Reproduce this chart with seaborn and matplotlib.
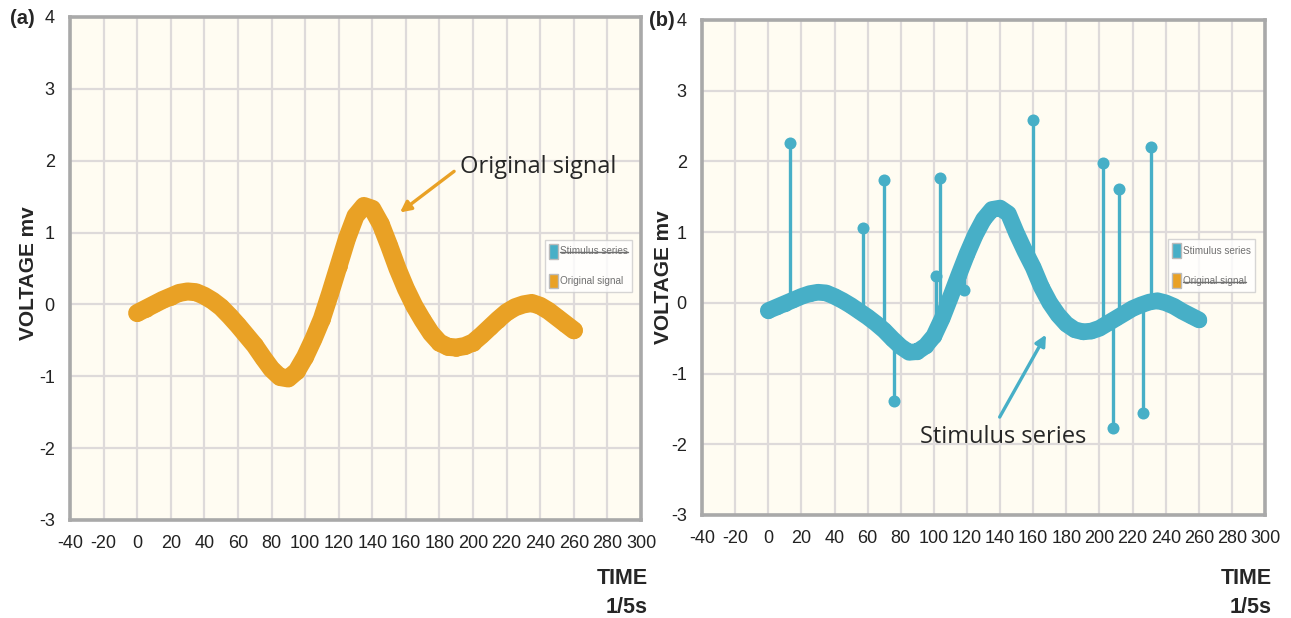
import pandas as pd
import matplotlib
matplotlib.use("Agg")
from matplotlib import pyplot as plt
from matplotlib.patches import Patch
from matplotlib.lines import Line2D
import seaborn as sns

TIME = list(range(0, 261, 5))
ORIGINAL = [-0.12, -0.06, 0.0, 0.06, 0.11, 0.16, 0.18, 0.17, 0.12, 0.05,
            -0.04, -0.16, -0.29, -0.43, -0.57, -0.74, -0.9, -1.01, -1.03, -0.93,
            -0.73, -0.48, -0.2, 0.16, 0.54, 0.92, 1.23, 1.37, 1.33, 1.12,
            0.82, 0.5, 0.22, -0.02, -0.22, -0.4, -0.53, -0.59, -0.6, -0.58,
            -0.53, -0.43, -0.32, -0.21, -0.11, -0.04, 0.0, 0.02, -0.02, -0.09,
            -0.18, -0.27, -0.36]
STIMULUS = [-0.11, -0.06, -0.01, 0.04, 0.09, 0.13, 0.15, 0.14, 0.09, 0.03,
            -0.04, -0.12, -0.2, -0.29, -0.39, -0.51, -0.62, -0.7, -0.69, -0.61,
            -0.47, -0.22, 0.08, 0.39, 0.69, 0.96, 1.18, 1.32, 1.34, 1.26,
            0.98, 0.73, 0.5, 0.22, 0.0, -0.17, -0.3, -0.38, -0.41, -0.4,
            -0.36, -0.29, -0.22, -0.15, -0.08, -0.03, 0.01, 0.03, 0.0, -0.05,
            -0.12, -0.18, -0.24]
SPIKE_TIME = [13, 57, 70, 76, 101, 104, 118, 160, 202, 208, 212, 226, 231]
SPIKE_BASE = [0.02, -0.15, -0.39, -0.53, -0.42, -0.3, 0.55, 0.5, -0.34, -0.25, -0.2, -0.02, 0.02]
SPIKE_TIP = [2.26, 1.06, 1.73, -1.39, 0.38, 1.77, 0.18, 2.58, 1.98, -1.77, 1.61, -1.56, 2.2]

X_TICKS = list(range(-40, 301, 20))
Y_TICKS = list(range(-3, 5))
LEGEND_LABELS = ["Stimulus series", "Original signal"]

ORANGE = "#E9A125"
BLUE = "#47AFC7"
SPINE = "#A9A9A9"

sns.set_style("white")
plt.rcParams["font.family"] = ["Liberation Sans", "DejaVu Sans"]
plt.rcParams["axes.unicode_minus"] = False

fig = plt.figure(figsize=(12.91, 6.18), dpi=100)
ax1 = fig.add_axes([0.0542, 0.1586, 0.4423, 0.8139])
ax2 = fig.add_axes([0.5438, 0.1667, 0.4361, 0.8010])

orig_df = pd.DataFrame({"time": TIME, "v": ORIGINAL})
stim_df = pd.DataFrame({"time": TIME, "v": STIMULUS})

sns.lineplot(data=orig_df, x="time", y="v", ax=ax1, color=ORANGE, lw=13,
             marker="o", markersize=12, markeredgewidth=0,
             solid_capstyle="round", solid_joinstyle="round", zorder=3)

ax2.vlines(SPIKE_TIME, SPIKE_BASE, SPIKE_TIP, color=BLUE, lw=2.4, zorder=3)
sns.lineplot(data=stim_df, x="time", y="v", ax=ax2, color=BLUE, lw=12,
             marker="o", markersize=11, markeredgewidth=0,
             solid_capstyle="round", solid_joinstyle="round", zorder=4)
sns.scatterplot(x=SPIKE_TIME, y=SPIKE_TIP, ax=ax2, color=BLUE, s=75,
                linewidth=0, zorder=5)

for ax, ylab, tlab in ((ax1, (-0.073, 0.49), -0.095), (ax2, (-0.069, 0.48), -0.107)):
    ax.set_facecolor("#FFFCF2")
    ax.set_xlim(-40, 300)
    ax.set_ylim(-3, 4)
    ax.set_xticks(X_TICKS)
    ax.set_yticks(Y_TICKS)
    ax.grid(True, color="#DEDADA", lw=1.6)
    ax.set_axisbelow(True)
    for s in ax.spines.values():
        s.set_visible(True)
        s.set_color(SPINE)
        s.set_linewidth(2.6)
    ax.tick_params(axis="both", labelsize=13, colors="#222222", length=5,
                   width=1.2, direction="out", color=SPINE, pad=6)
    ax.set_ylabel("VOLTAGE mv", fontsize=15, fontweight="bold")
    ax.yaxis.set_label_coords(*ylab)
    ax.yaxis.label.set_verticalalignment("center")
    ax.set_xlabel("TIME\n1/5s", fontsize=15.5, fontweight="bold",
                  linespacing=1.5)
    ax.xaxis.set_label_coords(1.012, tlab)
    ax.xaxis.label.set_horizontalalignment("right")
    ax.xaxis.label.set_verticalalignment("top")

fig.text(10 / 1291, 1 - 18 / 618, "(a)", fontsize=14.5, fontweight="bold", va="center")
fig.text(649 / 1291, 1 - 20 / 618, "(b)", fontsize=14.5, fontweight="bold", va="center")

ax1.annotate("Original signal", xy=(156.5, 1.28), xytext=(192, 1.91),
             fontsize=17, family="Open Sans", ha="left", va="center",
             arrowprops=dict(arrowstyle="-|>", color=ORANGE, lw=2.4,
                             mutation_scale=16, relpos=(0, 0.5),
                             shrinkA=2, shrinkB=0))
ax2.annotate("Stimulus series", xy=(167.7, -0.45), xytext=(142, -1.9),
             fontsize=17, family="Open Sans", ha="center", va="center",
             arrowprops=dict(arrowstyle="-|>", color=BLUE, lw=2.4,
                             mutation_scale=16, relpos=(0.45, 1.0),
                             shrinkA=4, shrinkB=0))

handles = [Patch(facecolor=BLUE, edgecolor="#BBBBBB"),
           Patch(facecolor=ORANGE, edgecolor="#BBBBBB")]
legends = []
for ax, x0 in ((ax1, 0.832), (ax2, 0.828)):
    leg = ax.legend(handles, LEGEND_LABELS, loc="upper left",
                    bbox_to_anchor=(x0, 0.557), fontsize=7.2,
                    frameon=True, handlelength=0.9, handleheight=1.9,
                    handletextpad=0.2, labelspacing=1.5, borderpad=0.4,
                    borderaxespad=0, fancybox=False, labelcolor="#707070")
    leg.get_frame().set_edgecolor("#CCCCCC")
    leg.get_frame().set_facecolor("#FFFFFF")
    leg.get_frame().set_linewidth(1.0)
    legends.append(leg)

# strike-through of the hidden series in each legend
fig.canvas.draw()
renderer = fig.canvas.get_renderer()
inv = fig.transFigure.inverted()
for leg, idx in ((legends[0], 0), (legends[1], 1)):
    bb = leg.get_texts()[idx].get_window_extent(renderer)
    ym = (bb.y0 + bb.y1) / 2 - 1
    (x0, y0), (x1, y1) = inv.transform([(bb.x0, ym), (bb.x1, ym)])
    fig.add_artist(Line2D([x0, x1], [y0, y1], color="#707070", lw=1.0,
                          transform=fig.transFigure))

fig.savefig("out.png", dpi=100)
